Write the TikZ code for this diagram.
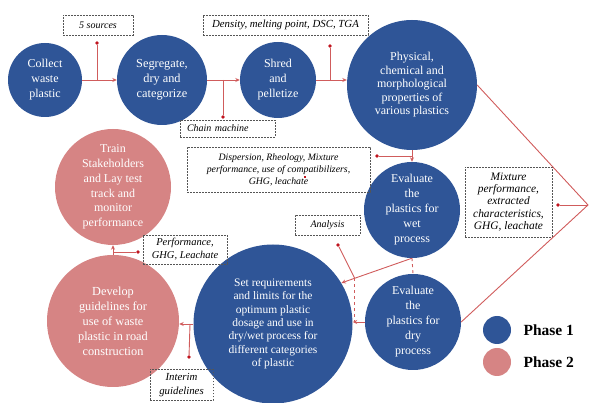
\documentclass[tikz,border=0pt]{standalone}
\usepackage{fontspec}
\setmainfont{Liberation Serif}
\usetikzlibrary{arrows.meta}
\definecolor{pblue}{RGB}{47,85,151}
\definecolor{ppink}{RGB}{214,132,132}
\definecolor{lred}{RGB}{208,92,92}
\definecolor{dred}{RGB}{192,20,30}
\definecolor{bgray}{RGB}{85,85,85}
\newcommand{\fs}[2]{\fontsize{#1}{#2}\selectfont}
\begin{document}
\begin{tikzpicture}[x=1pt,y=-1pt,
  phaseone/.style={circle,fill=pblue,text=white,inner sep=0pt,align=center},
  phasetwo/.style={circle,fill=ppink,text=white,inner sep=0pt,align=center},
  note/.style={draw=bgray,line width=0.7pt,dash pattern=on 1.6pt off 1.4pt,inner sep=0pt,align=center},
  conn/.style={draw=lred,line width=0.9pt},
  arr/.style={conn,-{Stealth[length=4.5pt,width=4pt]}},
  dotend/.style={circle,fill=dred,inner sep=0pt,minimum size=3.6pt},
]
\useasboundingbox (0,0) rectangle (590,403);

% circles
\node[phaseone,minimum size=74pt,font=\fs{12}{15}] (collect) at (45,80) {Collect\\waste\\plastic};
\node[phaseone,minimum size=90pt,font=\fs{12.3}{15}] (seg) at (162,80) {Segregate,\\dry and\\categorize};
\node[phaseone,minimum size=76pt,font=\fs{12}{15}] (shred) at (278,80) {Shred\\and\\pelletize};
\node[phaseone,minimum size=130pt,font=\fs{12}{13.5}] (phys) at (412,85) {Physical,\\chemical and\\morphological\\properties of\\various plastics};
\node[phaseone,minimum size=96pt,font=\fs{12}{15}] (wet) at (412,210) {Evaluate\\the\\plastics for\\wet\\process};
\node[phaseone,minimum size=96pt,font=\fs{12}{15}] (dry) at (413,322) {Evaluate\\the\\plastics for\\dry\\process};
\node[phaseone,minimum size=159pt,font=\fs{11.5}{13.3}] (setreq) at (273,324) {Set requirements\\and limits for the\\optimum plastic\\dosage and use in\\dry/wet process for\\different categories\\of plastic};
\node[phasetwo,minimum size=116pt,font=\fs{12}{14.7}] (train) at (113,187) {Train\\Stakeholders\\and Lay test\\track and\\monitor\\performance};
\node[phasetwo,minimum size=132pt,font=\fs{12.3}{15}] (develop) at (113,321) {Develop\\guidelines for\\use of waste\\plastic in road\\construction};

% notes
\node[note,minimum width=70pt,minimum height=20pt,font=\itshape\fs{10}{12}] (n1) at (98,25) {5 sources};
\node[note,minimum width=165pt,minimum height=20pt,font=\itshape\fs{10.8}{12}] (n2) at (285.5,25) {Density, melting point, DSC, TGA};
\node[note,minimum width=95pt,minimum height=17pt,text width=81pt,inner xsep=7pt,align=left,font=\itshape\fs{10}{12}] (n3) at (227.5,128.5) {Chain machine};
\node[note,minimum width=183pt,minimum height=45pt,font=\itshape\fs{9.8}{12}] (n4) at (278.5,169.5) {Dispersion, Rheology, Mixture\\performance, use of compatibilizers,\\GHG, leachate};
\node[note,minimum width=65pt,minimum height=20pt,font=\itshape\fs{10}{12}] (n5) at (327.5,225) {Analysis};
\node[note,minimum width=87pt,minimum height=70pt,font=\itshape\fs{11.4}{12.2}] (n6) at (508.5,202) {Mixture\\performance,\\extracted\\characteristics,\\GHG, leachate};
\node[note,minimum width=84pt,minimum height=29pt,font=\itshape\fs{10.5}{12.8}] (n7) at (185,249.5) {Performance,\\GHG, Leachate};
\node[note,minimum width=63pt,minimum height=31pt,font=\itshape\fs{10.8}{14}] (n8) at (181.5,385) {Interim\\guidelines};

% dots
\node[dotend] (d1) at (97,43) {};
\node[dotend] (d2) at (223,117) {};
\node[dotend] (d3) at (330,46) {};
\node[dotend] (d4) at (377,156) {};
\node[dotend] (d5) at (338,245) {};
\node[dotend] (d6) at (558,205) {};
\node[dotend] (d7) at (189,357) {};
\node[dotend] (d8) at (138,252) {};
\node[fill=dred,inner sep=0pt,minimum size=2.6pt] (mk) at (305,177) {};

% junctions
\coordinate (j1) at (97,80);
\coordinate (j2) at (223,80);
\coordinate (j3) at (330,80);
\coordinate (j4) at (412,156);
\coordinate (V) at (588,205);
\coordinate (j8) at (190,324);
\coordinate (j9) at (113,252);

% connectors
\draw[arr] (collect.east) -- (seg.west);
\draw[conn] (j1) -- (d1);
\draw[arr] (seg.east) -- (shred.west);
\draw[conn] (j2) -- (d2);
\draw[arr] (shred.east) -- (shred.east -| phys.west);
\draw[conn] (j3) -- (d3);
\draw[arr] (phys.south) -- (wet.north);
\draw[conn] (j4) -- (d4);
\draw[arr] (wet.south) -- coordinate[pos=0.81] (j5) (setreq.31);
\draw[conn] (j5) -- (d5);
\coordinate (j6) at (j5 |- dry.west);
\draw[conn,dashed] (j5) -- (j6);
\draw[arr] (dry.west) -- (dry.west -| setreq.east);
\draw[conn,dashed] (wet.south) -- (dry.north);
\draw[conn] (phys.east) -- (V) -- (dry.east);
\draw[conn] (V) -- (d6);
\draw[arr] (setreq.west) -- (setreq.west -| develop.east);
\draw[conn] (j8) -- (d7);
\draw[arr] (develop.north) -- (train.south);
\draw[conn] (j9) -- (d8);

% legend
\node[phaseone,minimum size=28pt] (l1) at (497,330) {};
\node[phasetwo,minimum size=28pt] (l2) at (497,362) {};
\node[anchor=west,font=\bfseries\fs{15.5}{18}] (t1) at (520,330) {Phase 1};
\node[anchor=west,font=\bfseries\fs{15.5}{18}] (t2) at (520,362) {Phase 2};
\end{tikzpicture}
\end{document}
